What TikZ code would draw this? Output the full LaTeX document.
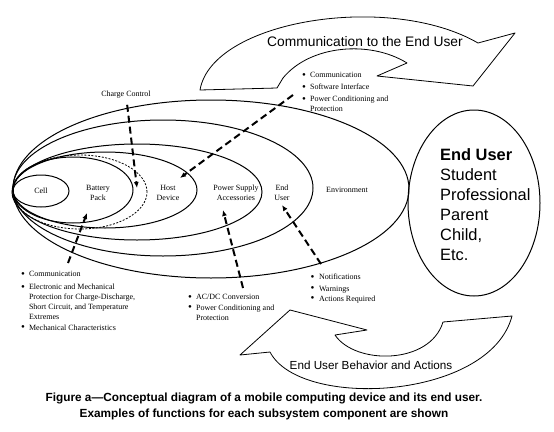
\documentclass[tikz,border=0pt]{standalone}
\usepackage{fontspec}
\setmainfont{Liberation Serif}
\newfontfamily\arialfont{Liberation Sans}
\usetikzlibrary{arrows.meta, shapes.geometric}

\newcommand{\bul}{\raisebox{-0.8pt}{\fontsize{11}{10}\selectfont\textbullet}}

\begin{document}
\begin{tikzpicture}[x=1pt, y=-1pt,
    ring/.style={draw, ellipse, line width=1pt, inner sep=0pt},
    lbl/.style={font=\fontsize{8}{9.5}\selectfont, align=center, inner sep=0pt},
    lst/.style={font=\fontsize{8}{10}\selectfont, anchor=base west, inner sep=0pt},
    darrow/.style={-{Latex[length=6pt, width=5pt]}, line width=2pt, dash pattern=on 7pt off 4pt},
    bigarrow/.style={draw, line width=0.8pt, line join=round}]
\useasboundingbox (0,0) rectangle (554,431);

% Rings, outer to inner
\node[ring, minimum width=396pt, minimum height=178pt] (envring) at (211,189) {};
\node[ring, minimum width=300pt, minimum height=136pt] (userring) at (163,188) {};
\node[ring, minimum width=250pt, minimum height=96pt] (psring) at (137,192) {};
\node[ring, minimum width=184pt, minimum height=76pt] (hostring) at (105,190) {};
\node[ring, line width=0.8pt, dash pattern=on 2pt off 1.5pt, minimum width=134pt, minimum height=74pt] (dotring) at (80,192) {};
\node[ring, minimum width=120pt, minimum height=66pt] (battring) at (73,190) {};
\node[ring, lbl, minimum width=56pt, minimum height=32pt] (cell) at (41,191) {Cell};

% Ring labels
\node[lbl] (battlbl) at (98,193) {Battery\\Pack};
\node[lbl] (hostlbl) at (168,193) {Host\\Device};
\node[lbl] (pslbl) at (236,193) {Power Supply\\Accessories};
\node[lbl] (userlbl) at (282,193) {End\\User};
\node[lbl] (envlbl) at (347,190) {Environment};
\node[lbl] (cc) at (126,95) {Charge Control};

% Communication to the End User
\draw[bigarrow] (200,90) .. controls (212,20) and (390,-8) .. (478,43) -- (515,33) -- (473,86)
    -- (377,76) -- (407,63) .. controls (370,40) and (310,45) .. (283,78) -- (277,88) -- cycle;
\node[font=\arialfont\fontsize{13.8}{16}\selectfont, inner sep=0pt] (commtxt) at (365,42) {Communication to the End User};

% End User Behavior and Actions
\draw[bigarrow] (512,316) .. controls (490,400) and (300,410) .. (270,352) -- (240,355) -- (290,310)
    -- (367,330) -- (335,335) .. controls (355,365) and (430,365) .. (443,322) -- cycle;
\node[font=\arialfont\fontsize{11.7}{13}\selectfont, inner sep=0pt] (behavtxt) at (371,365) {End User Behavior and Actions};

% End User
\node[ring, minimum width=132pt, minimum height=186pt] (userbox) at (474,203) {};
\node[font=\arialfont\fontsize{16.4}{20}\selectfont, align=left, anchor=north west, inner sep=0pt] (usertxt) at (440,148)
    {\textbf{End User}\\Student\\Professional\\Parent\\Child,\\Etc.};

% Function lists
\node[lst] (toplist) at (302,77.5) {\begin{tabular}[t]{@{}l@{\hspace{4pt}}l@{}}
    \bul & Communication\\[2pt]
    \bul & Software Interface\\[2pt]
    \bul & Power Conditioning and\\
         & Protection
  \end{tabular}};
\node[lst] (battlist) at (21,276.5) {\begin{tabular}[t]{@{}l@{\hspace{4pt}}l@{}}
    \bul & Communication\\[3pt]
    \bul & Electronic and Mechanical\\
         & Protection for Charge-Discharge,\\
         & Short Circuit, and Temperature\\
         & Extremes\\[0.5pt]
    \bul & Mechanical Characteristics
  \end{tabular}};
\node[lst] (pslist) at (188,299.5) {\begin{tabular}[t]{@{}l@{\hspace{4pt}}l@{}}
    \bul & AC/DC Conversion\\[0.5pt]
    \bul & Power Conditioning and\\
         & Protection
  \end{tabular}};
\node[lst] (userlist) at (310.5,279.5) {\begin{tabular}[t]{@{}l@{\hspace{4.5pt}}l@{}}
    \bul & Notifications\\[1.5pt]
    \bul & Warnings\\
    \bul & Actions Required
  \end{tabular}};

% Dashed arrows
\coordinate (cctip) at (137,188);
\coordinate (hosttail) at (293,95);
\coordinate (hosttip) at (180,178);
\coordinate (batttail) at (68,263);
\coordinate (batttip) at (87,213);
\coordinate (pstail) at (243,288);
\coordinate (pstip) at (223,210);
\coordinate (usertail) at (321,264);
\coordinate (usertip) at (282,205);
\draw[darrow, shorten <=6pt] (cc) -- (cctip);
\draw[darrow] (hosttail) -- (hosttip);
\draw[darrow] (batttail) -- (batttip);
\draw[darrow] (pstail) -- (pstip);
\draw[darrow] (usertail) -- (usertip);

% Caption
\node[font=\arialfont\bfseries\fontsize{11.8}{16}\selectfont, align=center, inner sep=0pt] (caption) at (264,406)
    {Figure a—Conceptual diagram of a mobile computing device and its end user.\\Examples of functions for each subsystem component are shown};
\end{tikzpicture}
\end{document}
